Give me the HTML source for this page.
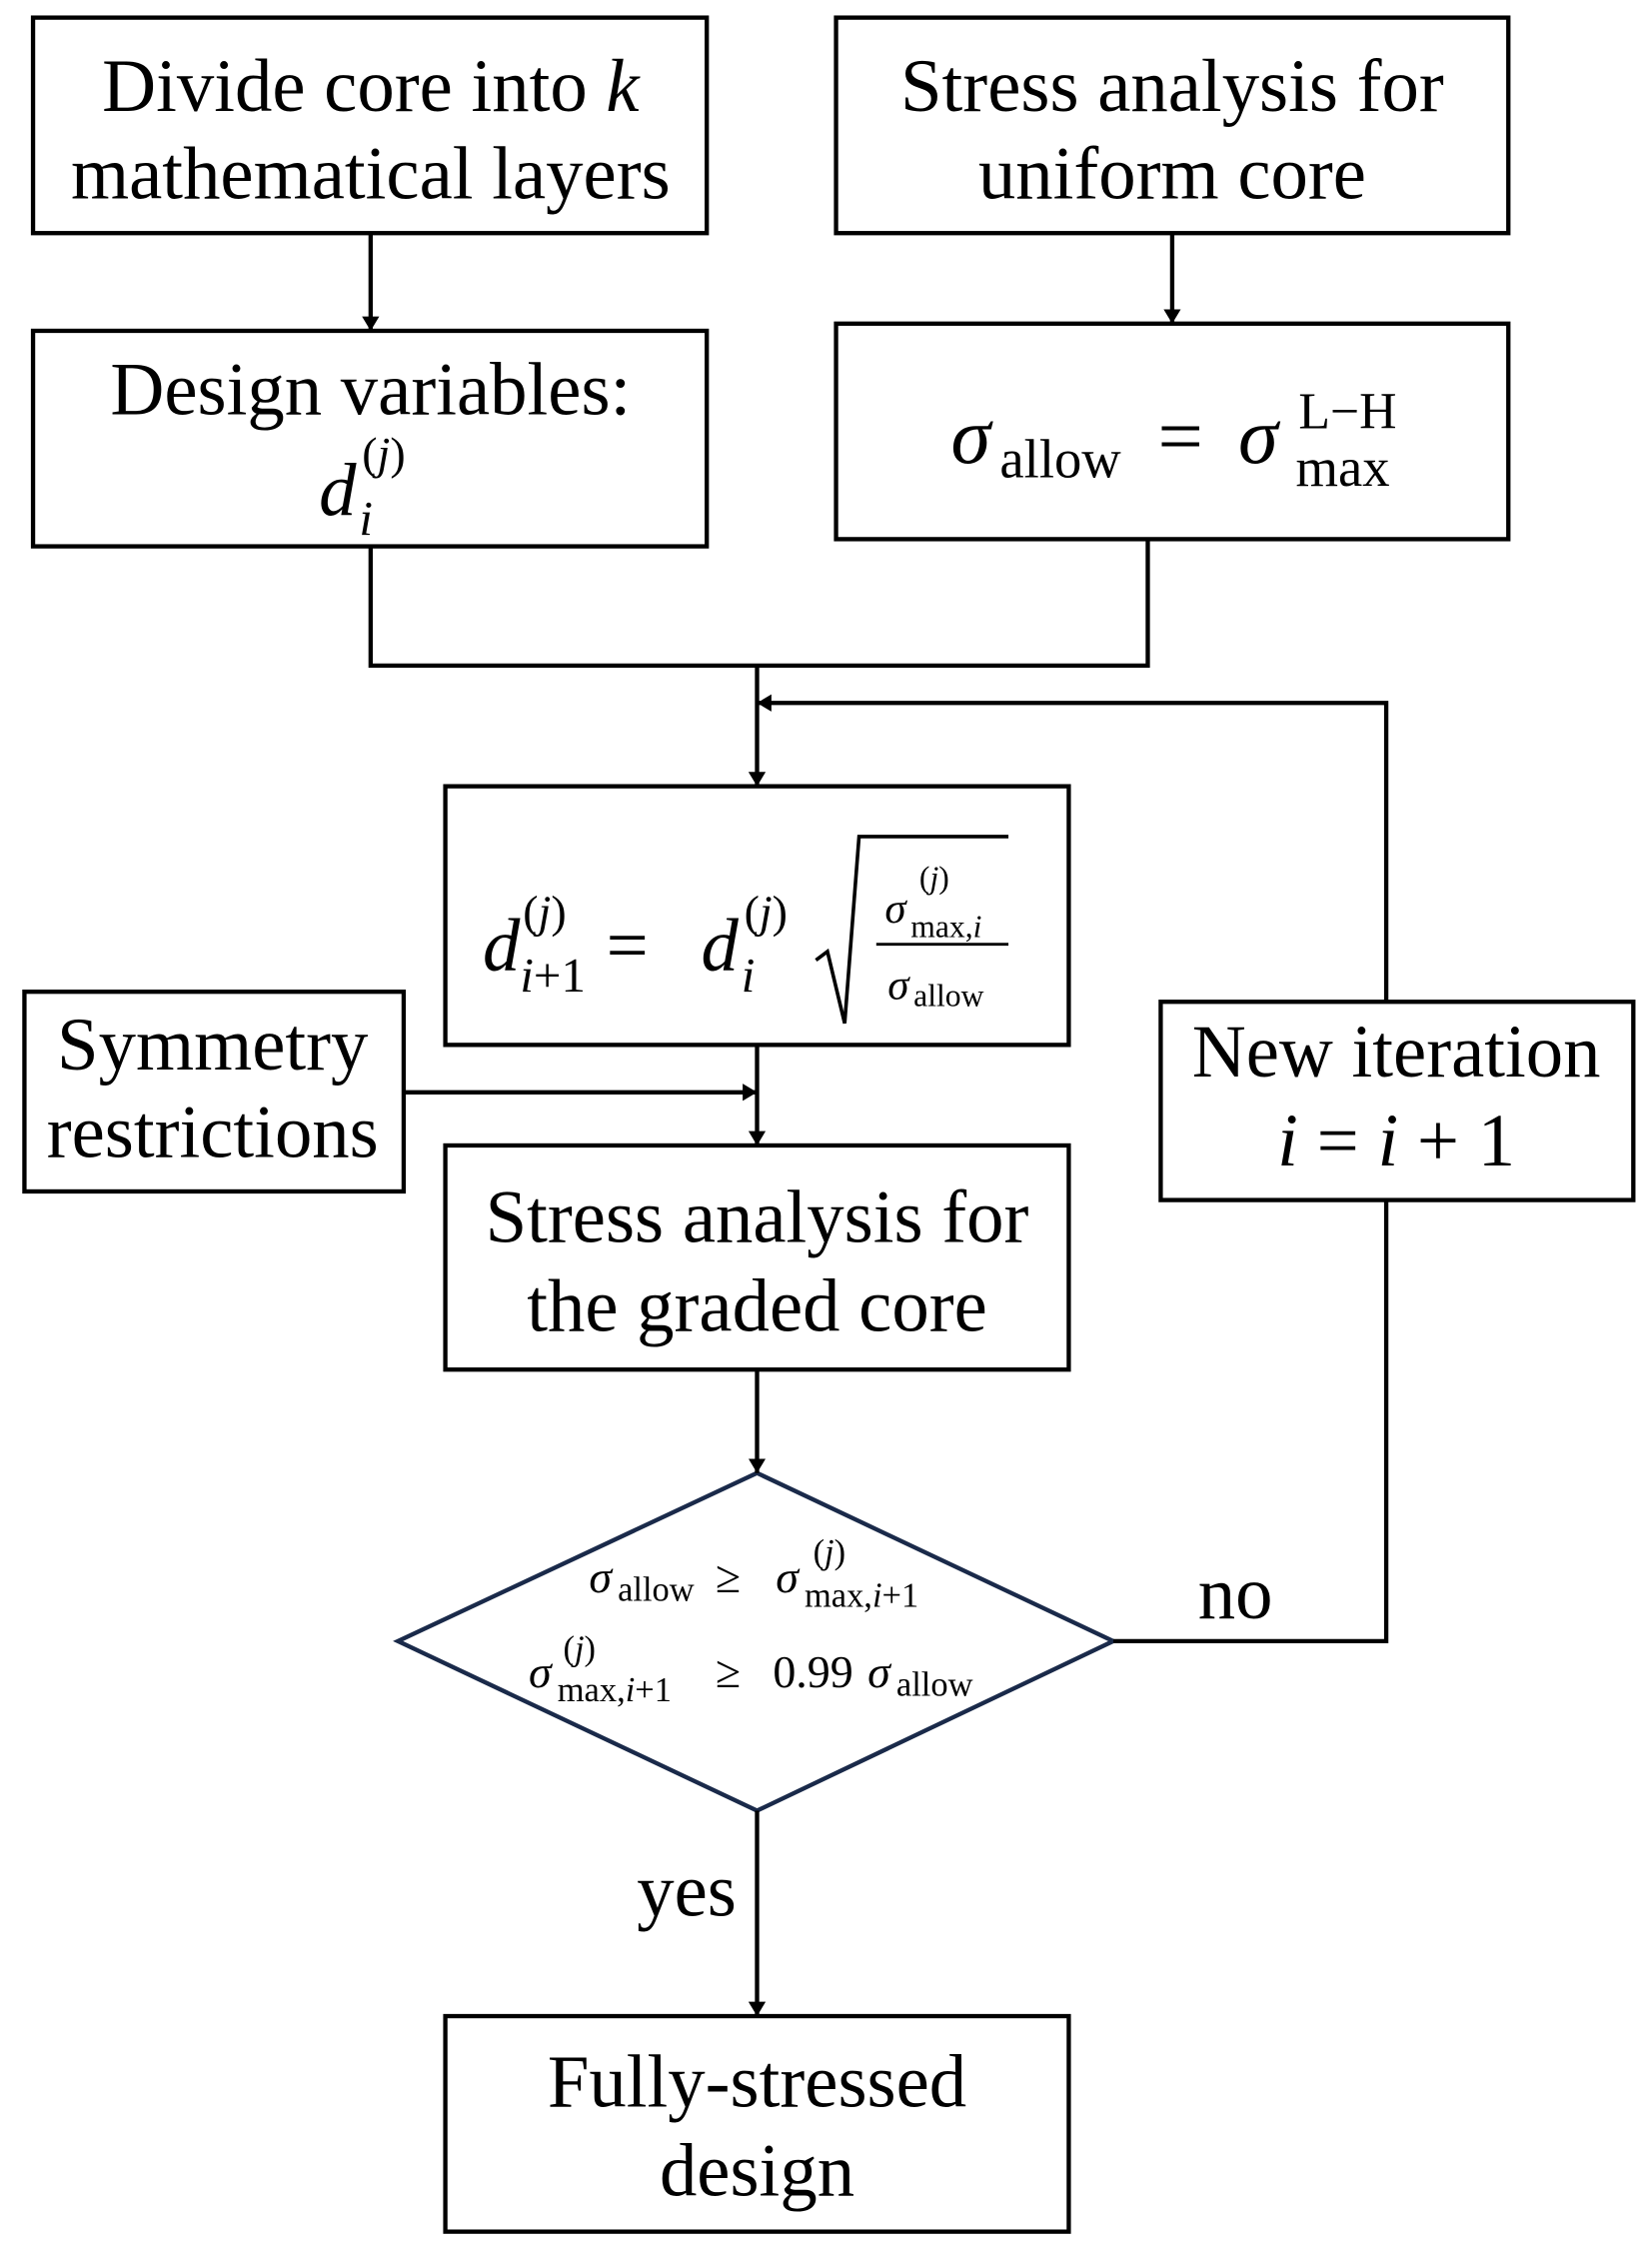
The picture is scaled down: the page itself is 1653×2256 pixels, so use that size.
<!DOCTYPE html>
<html><head><meta charset="utf-8"><style>html,body{margin:0;padding:0;background:#fff}svg{display:block}</style></head>
<body>
<svg xmlns="http://www.w3.org/2000/svg" width="1653" height="2256" viewBox="0 0 1150 1569">
<defs><marker id="a" markerWidth="10" markerHeight="12" refX="10" refY="6" orient="auto" markerUnits="userSpaceOnUse"><path d="M0,0 L10,6 L0,12 z" fill="#000"/></marker></defs>
<g fill="none" stroke="#000" stroke-width="3">
<rect x="23" y="12" width="469" height="150"/>
<rect x="582" y="12" width="468" height="150"/>
<rect x="23" y="230" width="469" height="150"/>
<rect x="582" y="225" width="468" height="150"/>
<rect x="310" y="547" width="434" height="180"/>
<rect x="17" y="690" width="264" height="139"/>
<rect x="310" y="797" width="434" height="156"/>
<rect x="808" y="697" width="329" height="138"/>
<rect x="310" y="1403" width="434" height="150"/>
<polygon points="527,1025 775,1142 527,1260 277,1142" stroke="#1a2a4a"/>
<line x1="258" y1="162" x2="258" y2="230" marker-end="url(#a)"/>
<line x1="816" y1="162" x2="816" y2="225" marker-end="url(#a)"/>
<polyline points="258,380 258,463 799,463 799,375"/>
<line x1="527" y1="463" x2="527" y2="547" marker-end="url(#a)"/>
<polyline points="965,697 965,489 527,489" marker-end="url(#a)"/>
<line x1="281" y1="760" x2="527" y2="760" marker-end="url(#a)"/>
<line x1="527" y1="727" x2="527" y2="797" marker-end="url(#a)"/>
<line x1="527" y1="953" x2="527" y2="1025" marker-end="url(#a)"/>
<polyline points="775,1142 965,1142 965,835"/>
<line x1="527" y1="1260" x2="527" y2="1403" marker-end="url(#a)"/>
</g>
<g font-family="Liberation Serif, serif" font-size="52" fill="#000" text-anchor="middle">
<text x="258" y="77">Divide core into <tspan font-style="italic">k</tspan></text>
<text x="258" y="138">mathematical layers</text>
<text x="816" y="77">Stress analysis for</text>
<text x="816" y="138">uniform core</text>
<text x="258" y="288">Design variables:</text>
<text x="148" y="744">Symmetry</text>
<text x="148" y="805">restrictions</text>
<text x="527" y="864">Stress analysis for</text>
<text x="527" y="926">the graded core</text>
<text x="972" y="749">New iteration</text>
<text x="972" y="811"><tspan font-style="italic">i</tspan> = <tspan font-style="italic">i</tspan> + 1</text>
<text x="860" y="1126">no</text>
<text x="478" y="1333">yes</text>
<text x="527" y="1466">Fully-stressed</text>
<text x="527" y="1528">design</text>
</g>
<g font-family="Liberation Serif, serif" fill="#000">
<text x="222" y="358" font-size="52" font-style="italic">d</text>
<text x="250" y="372" font-size="34" font-style="italic">i</text>
<text x="252" y="326" font-size="32"><tspan>(</tspan><tspan font-style="italic">j</tspan>)</text>

<text x="662" y="322" font-size="56" font-style="italic">σ</text>
<text x="696" y="332" font-size="38">allow</text>
<text x="806" y="322" font-size="56">=</text>
<text x="862" y="322" font-size="56" font-style="italic">σ</text>
<text x="902" y="338" font-size="38">max</text>
<text x="904" y="298" font-size="36">L−H</text>

<text x="336" y="675" font-size="52" font-style="italic">d</text>
<text x="362" y="690" font-size="34"><tspan font-style="italic">i</tspan>+1</text>
<text x="364" y="645" font-size="32">(<tspan font-style="italic">j</tspan>)</text>
<text x="422" y="675" font-size="52">=</text>
<text x="488" y="675" font-size="52" font-style="italic">d</text>
<text x="516" y="690" font-size="34" font-style="italic">i</text>
<text x="518" y="645" font-size="32">(<tspan font-style="italic">j</tspan>)</text>
<polyline points="568,668 576,662 588,712 598,582 702,582" fill="none" stroke="#000" stroke-width="2.5"/>
<line x1="610" y1="657" x2="702" y2="657" stroke="#000" stroke-width="2"/>
<text x="616" y="642" font-size="30" font-style="italic">σ</text>
<text x="634" y="652" font-size="22">max,<tspan font-style="italic">i</tspan></text>
<text x="640" y="618" font-size="22">(<tspan font-style="italic">j</tspan>)</text>
<text x="618" y="695" font-size="30" font-style="italic">σ</text>
<text x="636" y="700" font-size="22">allow</text>

<text x="410" y="1108" font-size="32" font-style="italic">σ</text>
<text x="430" y="1114" font-size="24">allow</text>
<text x="498" y="1108" font-size="32">≥</text>
<text x="540" y="1108" font-size="32" font-style="italic">σ</text>
<text x="560" y="1118" font-size="24">max,<tspan font-style="italic">i</tspan>+1</text>
<text x="566" y="1088" font-size="24">(<tspan font-style="italic">j</tspan>)</text>

<text x="368" y="1174" font-size="32" font-style="italic">σ</text>
<text x="388" y="1184" font-size="24">max,<tspan font-style="italic">i</tspan>+1</text>
<text x="392" y="1155" font-size="24">(<tspan font-style="italic">j</tspan>)</text>
<text x="498" y="1174" font-size="32">≥</text>
<text x="538" y="1174" font-size="32">0.99</text>
<text x="604" y="1174" font-size="32" font-style="italic">σ</text>
<text x="624" y="1180" font-size="24">allow</text>
</g>
</svg>
</body></html>
